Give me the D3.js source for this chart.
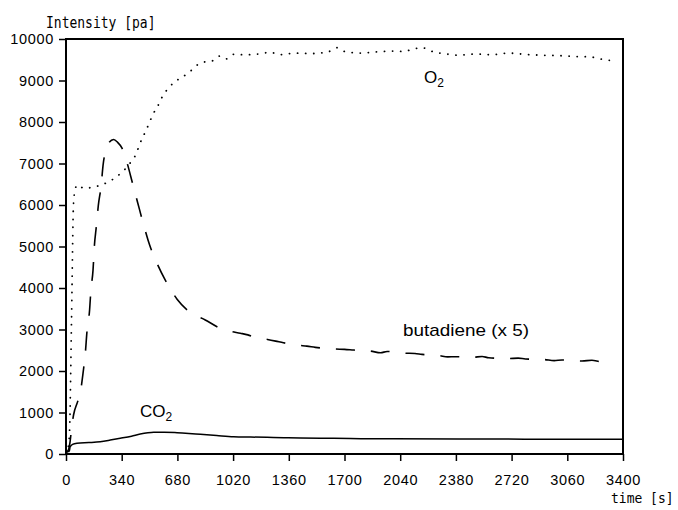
<!DOCTYPE html>
<meta charset="utf-8">
<script src="https://d3js.org/d3.v7.min.js"></script>
<style>
body { margin: 0; background: #fff; }
.tick text { font-family: "Liberation Sans", Arial, sans-serif; font-size: 14.5px; letter-spacing: 0.7px; fill: #000; }
.tick line { stroke: #000; stroke-width: 1.5px; }
.mono { font-family: "DejaVu Sans Mono", monospace; font-size: 13px; }
.lbl { font-family: "Liberation Sans", Arial, sans-serif; font-size: 17px; }
</style>
<body>
<div id="chart"></div>
<script>

// tick labels
var xTicks = [0, 340, 680, 1020, 1360, 1700, 2040, 2380, 2720, 3060, 3400];
var yTicks = [0, 1000, 2000, 3000, 4000, 5000, 6000, 7000, 8000, 9000, 10000];

// O2 (dotted)
var o2Time  = [0, 5, 15, 22, 34, 46, 55, 67, 112, 163, 213, 270, 315, 362, 393, 429, 451, 478, 502, 529, 561, 588, 624, 665, 708, 753, 793, 840, 891, 938, 977, 1023, 1088, 1176, 1250, 1300, 1400, 1500, 1600, 1654, 1700, 1800, 1900, 2000, 2060, 2120, 2173, 2250, 2300, 2400, 2500, 2600, 2700, 2800, 2900, 3000, 3100, 3200, 3260, 3330];
var o2Value = [0, 50, 200, 580, 3300, 6050, 6350, 6480, 6400, 6430, 6480, 6580, 6700, 6870, 7020, 7240, 7480, 7710, 7920, 8170, 8390, 8610, 8810, 8970, 9080, 9200, 9350, 9440, 9470, 9590, 9520, 9630, 9620, 9640, 9680, 9620, 9660, 9650, 9690, 9790, 9700, 9660, 9690, 9710, 9700, 9760, 9790, 9680, 9650, 9610, 9640, 9620, 9660, 9630, 9610, 9600, 9580, 9570, 9520, 9480];

// butadiene x 5 (dashed)
var buTime  = [0, 15, 25, 35, 46, 70, 87, 104, 118, 128, 144, 152, 165, 173, 185, 197, 215, 226, 240, 260, 291, 315, 342, 368, 409, 438, 474, 510, 555, 606, 678, 759, 850, 942, 1000, 1064, 1110, 1156, 1230, 1280, 1327, 1420, 1470, 1522, 1640, 1700, 1755, 1860, 1920, 1960, 2070, 2130, 2173, 2280, 2330, 2377, 2480, 2540, 2580, 2700, 2760, 2804, 2920, 2980, 3028, 3150, 3210, 3262, 3320];
var buValue = [30, 100, 300, 650, 940, 1250, 1470, 1950, 2430, 2950, 3470, 3950, 4430, 5000, 5480, 5980, 6480, 6950, 7280, 7490, 7580, 7510, 7370, 7080, 6480, 6050, 5520, 5040, 4600, 4190, 3730, 3410, 3230, 3030, 2960, 2910, 2870, 2810, 2760, 2720, 2680, 2620, 2600, 2570, 2530, 2520, 2505, 2480, 2440, 2470, 2430, 2420, 2400, 2370, 2340, 2345, 2330, 2350, 2320, 2300, 2310, 2290, 2275, 2250, 2265, 2240, 2260, 2225, 2215];

// CO2 (solid)
var co2Time  = [0, 3, 20, 25, 40, 67, 140, 209, 270, 331, 400, 453, 500, 535, 600, 678, 750, 820, 920, 1023, 1127, 1227, 1330, 1430, 1634, 1800, 2000, 2400, 2800, 3400];
var co2Value = [170, 60, 60, 170, 230, 257, 275, 297, 335, 378, 430, 480, 510, 522, 525, 513, 495, 474, 445, 417, 408, 402, 393, 385, 378, 370, 365, 360, 358, 355];

var margin = {top: 39, right: 55, bottom: 56, left: 66},
    width = 678 - margin.left - margin.right,
    height = 510 - margin.top - margin.bottom;

var svg = d3.select("#chart")
  .append("svg")
    .attr("width", 678)
    .attr("height", 510)
  .append("g")
    .attr("transform", "translate(" + margin.left + "," + margin.top + ")");

var x = d3.scaleLinear().domain([0, 3400]).range([0, width]);
var y = d3.scaleLinear().domain([0, 10000]).range([height, 0]);

// axes
var xAxis = svg.append("g")
  .attr("transform", "translate(0," + height + ")")
  .call(d3.axisBottom(x).tickValues(xTicks).tickSize(7).tickPadding(14).tickFormat(d3.format("d")));
xAxis.select(".domain").remove();

var yAxis = svg.append("g")
  .call(d3.axisLeft(y).tickValues(yTicks).tickSize(7).tickPadding(5).tickFormat(d3.format("d")));
yAxis.select(".domain").remove();

// frame
svg.append("rect")
  .attr("x", 0).attr("y", 0)
  .attr("width", width).attr("height", height)
  .attr("fill", "none")
  .attr("stroke", "#000")
  .attr("stroke-width", 2);

function series(t, v) {
  return t.map(function(d, i) { return [d, v[i]]; });
}

var line = d3.line()
  .x(function(d) { return x(d[0]); })
  .y(function(d) { return y(d[1]); })
  .curve(d3.curveMonotoneX);

svg.append("path")
  .datum(series(o2Time, o2Value))
  .attr("d", line)
  .attr("fill", "none")
  .attr("stroke", "#000")
  .attr("stroke-width", 1.8)
  .attr("stroke-linecap", "round")
  .attr("stroke-dasharray", "0.1,8");

svg.append("path")
  .datum(series(buTime, buValue))
  .attr("d", line)
  .attr("fill", "none")
  .attr("stroke", "#000")
  .attr("stroke-width", 1.6)
  .attr("stroke-dasharray", "19,16");

svg.append("path")
  .datum(series(co2Time, co2Value))
  .attr("d", line)
  .attr("fill", "none")
  .attr("stroke", "#000")
  .attr("stroke-width", 1.5);

// axis titles (narrow, tall monospace look)
var root = d3.select("svg");
root.append("text")
  .attr("class", "mono")
  .attr("transform", "translate(46,28) scale(1,1.2)")
  .text("Intensity [pa]");
root.append("text")
  .attr("class", "mono")
  .attr("transform", "translate(611,503) scale(1,1.15)")
  .text("time [s]");

// series labels
var o2 = root.append("text").attr("class", "lbl").attr("x", 424).attr("y", 83);
o2.append("tspan").text("O");
o2.append("tspan").attr("dy", 4).attr("font-size", 12).text("2");

var co2 = root.append("text").attr("class", "lbl").attr("x", 140).attr("y", 417);
co2.append("tspan").text("CO");
co2.append("tspan").attr("dy", 4).attr("font-size", 12).text("2");

root.append("text").attr("class", "lbl")
  .attr("x", 403).attr("y", 336)
  .attr("textLength", 126).attr("lengthAdjust", "spacingAndGlyphs")
  .text("butadiene (x 5)");

</script>
</body>
